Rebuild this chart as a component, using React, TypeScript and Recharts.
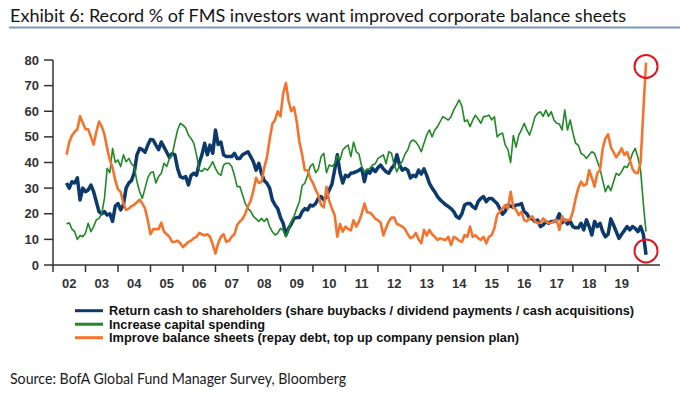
import React from 'react';
import { LineChart, Line, XAxis, YAxis, ReferenceDot } from 'recharts';

// Monthly survey readings, June 2002 .. April 2020
const START_YEAR = 2002;
const START_MONTH = 5; // June (0-based)

const returnCash = [
  32, 30, 32.5, 32, 34, 25.4, 30,
  28.6, 29.3, 31.2, 28.6, 24.7, 20.8, 20, 20.8, 19.5, 20, 17, 23,
  24, 21.5, 23.5, 30, 32, 33, 36, 43, 45.5, 45, 44, 46.8,
  49, 48.8, 46.8, 45, 48, 46, 44, 42, 43.5, 43, 37.7, 34.5,
  34, 34.5, 31.2, 35, 35.8, 35, 39.7, 43, 47.5, 43, 46.8, 43.6,
  52.7, 47, 48, 43, 42.3, 42.3, 42.3, 43.6, 41.6, 41.6, 43, 43.6,
  44.2, 42.3, 40.3, 37, 39.7, 35.8, 33, 31.9, 30, 25.4, 23.4, 22,
  18.5, 16.3, 11.7, 14.3, 16, 18.2, 18.5, 18.5, 20.8, 22, 21.5, 23.4,
  23, 24, 26, 26.7, 25.4, 26.7, 29.3, 31.5, 37, 43, 36, 32,
  35, 34.5, 35.8, 36, 36.4, 37, 37.7, 32.5, 37, 35.8, 37.7, 36.4,
  38, 39, 37.5, 36.4, 35.8, 37.7, 39, 43, 39, 37, 37.7, 37,
  34, 35, 34.5, 37, 35.5, 37.5, 35, 31.9, 30, 28.5, 26.7, 25.4,
  24.5, 23.5, 22.8, 22, 20.8, 18.9, 18.2, 20, 23.4, 24, 24, 22.8,
  22, 24.7, 26, 26.7, 24.7, 26, 26, 25, 24, 22, 19.8, 21,
  23.4, 23, 22.5, 23.4, 23.5, 24, 20.8, 20, 18.2, 18, 17, 17.5,
  15, 15.6, 17, 16.3, 17, 17, 17.5, 20, 16.5, 17.5, 16, 17,
  15, 14.5, 14.5, 16.3, 13.7, 17.6, 15, 11.7, 17, 15, 16.3, 13,
  11, 12, 18, 15.6, 13, 10.4, 12, 13.5, 15, 13.7, 15, 14.3,
  13, 15, 12, 4,
];

const capitalSpending = [
  16, 16.5, 14, 13, 10, 11.5, 11,
  12.5, 16.3, 13, 15, 17.6, 18.2, 20, 26, 37.7, 36, 45.5, 40,
  41, 38.4, 43, 40.3, 41.6, 39.5, 38.4, 32.5, 28.6, 26, 30, 34,
  36, 36.4, 32, 34.5, 35.8, 39.7, 38.4, 41.6, 43, 48, 52.7, 55.3,
  54.6, 53.5, 50.7, 49.4, 47.5, 43, 37, 36.5, 37.7, 37, 38.4, 40.3,
  37.7, 35.8, 35, 39, 39.7, 39.7, 38.4, 35, 30.6, 30.6, 27.3, 24,
  22, 21, 19, 18, 17, 18.2, 17, 18.2, 15, 13, 11.7, 12.4,
  14.3, 13.5, 11, 14, 17, 18.9, 22, 24.7, 31, 31.9, 35, 38.5,
  39.5, 36, 37.5, 42.3, 43.6, 36, 39, 38.5, 39.5, 42.5, 41, 44.9,
  46, 46.8, 42.3, 48, 44.2, 43.3, 38.4, 36.4, 37.2, 37.7, 39, 39.5,
  41.6, 42.3, 43, 39.5, 44.2, 43.6, 39, 36.4, 39, 40.5, 43.3, 44.9,
  48, 48.8, 48, 46.5, 44.2, 47.5, 50.7, 52.7, 50, 52.7, 54, 56,
  57.9, 57.2, 56.6, 57.9, 60.5, 62.4, 64.4, 62, 56, 56.6, 54, 56.5,
  58.5, 57, 55.3, 57.9, 58, 58.5, 56.6, 57.9, 50, 51, 51.5, 46.8,
  45, 40, 50.5, 46, 50.7, 52.7, 55.3, 52.7, 50.7, 54, 57.9, 59.2,
  59.8, 58, 60.5, 58, 59.8, 56.6, 55.3, 55, 52.7, 60.5, 52.7, 56.6,
  51.5, 47.5, 46.8, 43.6, 42.9, 41.6, 43, 44.2, 43.5, 40.5, 37.5, 33,
  28.6, 31, 29, 32.5, 35.8, 35, 36.4, 38.5, 38, 40.3, 43.6, 45.5,
  42, 37, 24, 13,
];

const balanceSheets = [
  43, 48, 50.5, 52, 53, 58, 55.5,
  53, 53, 50, 47, 52, 56, 54, 51, 45.5, 41, 38, 33,
  29.5, 28.5, 24, 21.5, 22, 23, 23.5, 24.5, 25.5, 24, 22, 17.5,
  12, 14, 14, 14, 16.5, 13, 12, 11, 9, 9, 9.5, 8.5,
  7, 8, 9, 9.5, 10.5, 11, 12.5, 12, 11.5, 12, 11, 8,
  4.5, 8.5, 11, 12, 9, 9.5, 11, 12, 15.6, 17, 18, 20,
  23, 25, 29, 34, 32, 32.5, 38, 42, 49, 55, 56.6, 60,
  58, 67, 71, 64, 60, 61.6, 56, 48, 43, 37, 37, 33.8,
  32, 29.3, 27.3, 23.4, 22.5, 30.5, 25, 22, 19.5, 11, 16, 13,
  15, 14, 13.5, 17.5, 15, 17, 20, 24, 20.5, 20.5, 19.5, 18,
  17.5, 16.5, 11.5, 14.5, 17, 18.5, 18.5, 16, 15.6, 15, 14, 12,
  10.5, 11, 12.5, 10, 8.5, 13.7, 11.5, 13.7, 12, 11, 9.8, 10.4,
  10, 9.8, 11, 7.8, 11, 10.4, 9.5, 9, 11.7, 11, 15, 11,
  11.7, 10.5, 9.8, 11, 8.5, 11, 11.7, 14.3, 19.5, 20.8, 22, 23.4,
  22, 28.6, 22.5, 21.5, 19.5, 20.8, 17.5, 17, 18.2, 19, 17, 16.3,
  16.5, 18.2, 17, 16.3, 16.5, 17, 17.6, 13.7, 19, 17, 17.6, 17.6,
  20.8, 26, 30, 32.5, 31, 31.5, 37, 34, 30.6, 35.8, 37, 45.5,
  49.4, 51, 46, 44, 42, 43.6, 45.5, 43, 44, 41, 37.5, 36,
  35.8, 40, 60, 79,
];

const yTicks = [0, 10, 20, 30, 40, 50, 60, 70, 80];
const firstYear = 2002;
const lastYear = 2019;
const xDomainEnd = 2020.68;

const TITLE = 'Exhibit 6: Record % of FMS investors want improved corporate balance sheets';
const SOURCE = 'Source: BofA Global Fund Manager Survey, Bloomberg';

const series = [
  { key: 'returnCash', name: 'Return cash to shareholders (share buybacks / dividend payments / cash acquisitions)', color: '#0c3a6d', width: 3.5, legendWidth: 525 },
  { key: 'capitalSpending', name: 'Increase capital spending', color: '#1f8a24', width: 1.6, legendWidth: 156 },
  { key: 'balanceSheets', name: 'Improve balance sheets (repay debt, top up company pension plan)', color: '#f5732c', width: 2.6, legendWidth: 410 },
];

// Highlight circles (value at circle centre) around the final readings
const highlights = [
  { key: 'balanceSheets', y: 77.5 },
  { key: 'returnCash', y: 5.5 },
];

const data = returnCash.map((v, i) => ({
  t: START_YEAR + (START_MONTH + i) / 12,
  returnCash: v,
  capitalSpending: capitalSpending[i],
  balanceSheets: balanceSheets[i],
}));

const xTicks: number[] = [];
for (let y = firstYear; y <= lastYear + 1; y++) {
  xTicks.push(y);
  if (y <= lastYear) xTicks.push(y + 0.5);
}

const AXIS = '#333333';
const TICK_FONT = "'Liberation Sans', Arial, sans-serif";

const XTick = (props: any) => {
  const { x, y, payload } = props;
  const v = payload.value as number;
  if (Number.isInteger(v)) {
    return <line x1={x} x2={x} y1={y} y2={y + 7} stroke={AXIS} strokeWidth={1.5} />;
  }
  const label = String(Math.floor(v)).slice(2);
  return (
    <text x={x} y={y + 23} textAnchor="middle" fill={AXIS} fontSize={13} fontWeight="bold" fontFamily={TICK_FONT}>
      {label}
    </text>
  );
};

export default function App() {
  const last = data[data.length - 1];
  return (
    <div style={{ position: 'absolute', left: 0, top: 0, width: 680, height: 396, background: '#fff', overflow: 'hidden' }}>
      <svg width={680} height={396} style={{ position: 'absolute', left: 0, top: 0 }}>
        <text x={10} y={21.7} fontFamily="Lato, 'Noto Sans', sans-serif" fontSize={17} fill="#151515" textLength={616} lengthAdjust="spacingAndGlyphs">
          {TITLE}
        </text>
        <rect x={9} y={26.5} width={671} height={2} fill="#7f98c0" />
        {series.map((s, i) => (
          <g key={s.key}>
            <line x1={75} x2={103} y1={310.7 + i * 13.5} y2={310.7 + i * 13.5} stroke={s.color} strokeWidth={3} />
            <text x={109} y={310.7 + i * 13.5} dy="0.36em" fontFamily={TICK_FONT} fontWeight="bold" fontSize={12.5} fill="#111" textLength={s.legendWidth} lengthAdjust="spacingAndGlyphs">
              {s.name}
            </text>
          </g>
        ))}
        <text x={10} y={383.5} fontFamily="Lato, 'Noto Sans', sans-serif" fontSize={15} fill="#1a1a1a" textLength={336} lengthAdjust="spacingAndGlyphs">
          {SOURCE}
        </text>
      </svg>
      <div style={{ position: 'absolute', left: 0, top: 0 }}>
        <LineChart width={680} height={300} data={data} margin={{ top: 60, right: 20, left: 0, bottom: 0 }}>
          <XAxis
            dataKey="t"
            type="number"
            domain={[firstYear, xDomainEnd]}
            ticks={xTicks}
            interval={0}
            tick={<XTick />}
            tickLine={false}
            tickSize={0}
            tickMargin={0}
            height={35}
            axisLine={{ stroke: AXIS, strokeWidth: 1.5 }}
            allowDataOverflow
          />
          <YAxis
            domain={[0, 80]}
            ticks={yTicks}
            interval={0}
            width={53}
            tickSize={9}
            tickMargin={5}
            axisLine={{ stroke: AXIS, strokeWidth: 1.5 }}
            tickLine={{ stroke: AXIS, strokeWidth: 1.5 }}
            tick={{ fill: AXIS, fontSize: 13, fontWeight: 'bold', fontFamily: TICK_FONT }}
          />
          {series.map((s) => (
            <Line
              key={s.key}
              type="linear"
              dataKey={s.key}
              stroke={s.color}
              strokeWidth={s.width}
              dot={false}
              activeDot={false}
              isAnimationActive={false}
              strokeLinejoin="round"
            />
          ))}
          {highlights.map((h) => (
            <ReferenceDot
              key={h.key}
              x={last.t}
              y={h.y}
              r={11.5}
              fill="none"
              stroke="#e3141f"
              strokeWidth={2}
              ifOverflow="visible"
            />
          ))}
        </LineChart>
      </div>
    </div>
  );
}
